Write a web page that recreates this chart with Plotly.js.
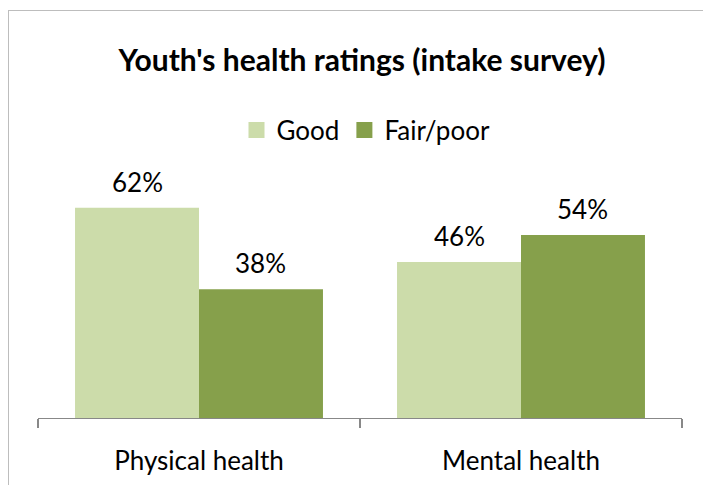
<!DOCTYPE html>
<html><head><meta charset="utf-8">
<script src="https://cdn.plot.ly/plotly-3.0.1.min.js"></script>
<style>
html,body{margin:0;padding:0;background:#fff;overflow:hidden;}
#wrap{position:relative;width:703px;height:485px;overflow:hidden;}
#chart{position:absolute;left:0;top:0;width:703px;height:485px;}
#frame{position:absolute;left:8px;top:10px;width:720px;height:500px;border:1.5px solid #bdbdbd;pointer-events:none;box-sizing:border-box;}
</style>
</head><body>
<div id="wrap"><div id="chart"></div><div id="frame"></div></div>
<script>
const categories = ["Physical health", "Mental health"];
const seriesNames = ["Good", "Fair/poor"];
const goodValues = [62, 46];
const fairPoorValues = [38, 54];
const colors = ["#CCDCAA", "#86A04B"];

const FONT = "Lato, Carlito, Calibri, sans-serif";
const allSeries = [goodValues, fairPoorValues];
const fmt = v => v + "%";

const traces = allSeries.map((vals, i) => ({
  type: "bar",
  name: seriesNames[i],
  x: categories,
  y: vals,
  showlegend: false,
  marker: {color: colors[i], line: {width: 0}},
  hoverinfo: "skip"
}));
// legend-only entries with square swatches
seriesNames.forEach((n, i) => traces.push({
  type: "scatter", mode: "markers", name: n, x: [null], y: [null],
  marker: {symbol: "square", size: 16, color: colors[i]}, showlegend: true, hoverinfo: "skip"
}));

const barPx = 322 * (1 - 0.23) / 2;
const annotations = [];
allSeries.forEach((vals, i) => vals.forEach((v, j) => annotations.push({
  x: categories[j], y: v, xref: "x", yref: "y", text: fmt(v), showarrow: false,
  xshift: (i === 0 ? -1 : 1) * barPx / 2, yshift: 26, yanchor: "middle",
  font: {family: FONT, size: 26, color: "#000"}
})));

const layout = {
  width: 703, height: 485,
  paper_bgcolor: "#fff", plot_bgcolor: "#fff",
  margin: {l: 38, r: 21, t: 160, b: 67, pad: 0},
  font: {family: FONT, color: "#000", size: 26},
  title: {text: "<b>Youth's health ratings (intake survey)</b>", x: 362/703, xanchor: "center",
          y: 1 - 60/485, yanchor: "middle", yref: "container",
          font: {family: FONT, size: 30, color: "#000"}},
  showlegend: true,
  legend: {orientation: "h", xref: "container", yref: "container", x: 366/703, y: 1 - 130/485,
           xanchor: "center", yanchor: "middle", font: {size: 26, family: FONT},
           itemsizing: "trace", itemwidth: 30, traceorder: "normal"},
  annotations: annotations,
  barmode: "group", bargap: 0.23, bargroupgap: 0,
  xaxis: {type: "category", showline: true, linecolor: "#888", linewidth: 1.2,
          ticks: "outside", tickson: "boundaries", ticklen: 9, tickcolor: "#888", tickwidth: 1.2,
          ticklabelstandoff: 20, tickfont: {size: 26, family: FONT},
          showgrid: false, zeroline: false, fixedrange: true},
  yaxis: {range: [0, 258/3.39], visible: false, showgrid: false, zeroline: false, fixedrange: true}
};
Plotly.newPlot("chart", traces, layout, {displayModeBar: false, staticPlot: true});
</script>
</body></html>
